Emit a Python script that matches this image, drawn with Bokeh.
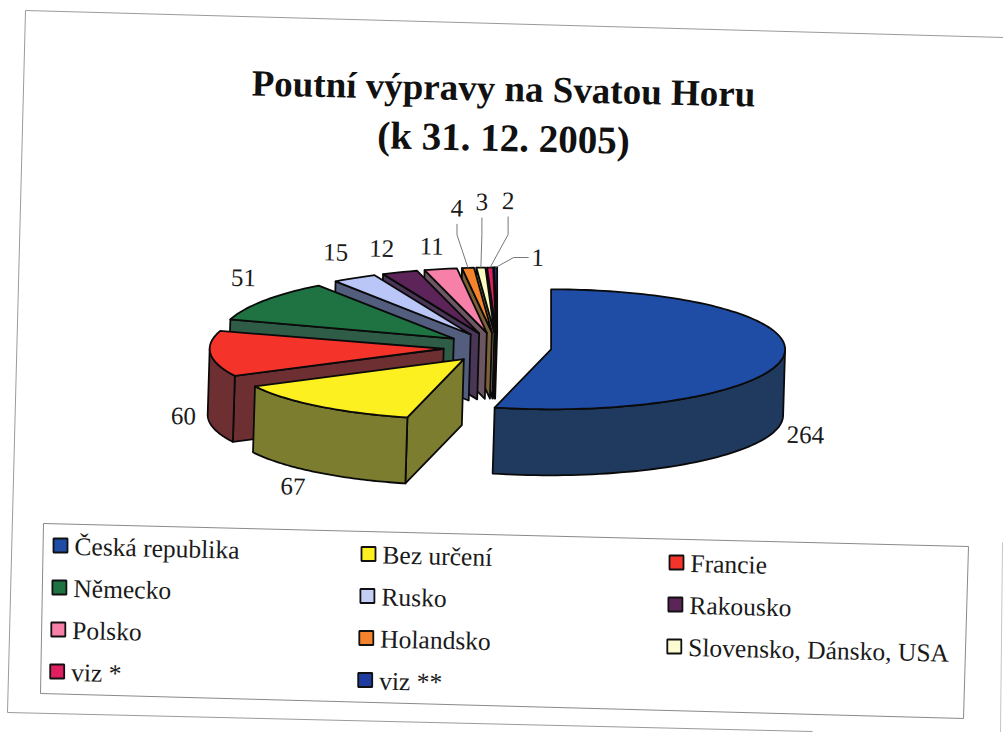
import numpy as np
from bokeh.plotting import figure
from bokeh.models import Range1d
from bokeh.core.properties import value
from bokeh.embed import file_html
from bokeh.resources import INLINE

TITLE = ["Poutní výpravy na Svatou Horu", "(k 31. 12. 2005)"]
categories = ["Česká republika", "Bez určení", "Francie", "Německo", "Rusko", "Rakousko",
              "Polsko", "Holandsko", "Slovensko, Dánsko, USA", "viz *", "viz **"]
values = [264, 67, 60, 51, 15, 12, 11, 4, 3, 2, 1]
top_colors = ["#1f4da6", "#fdf021", "#f4342b", "#1f7342", "#b9c6f7", "#5d2459",
              "#f780a8", "#f5832b", "#fdfbc2", "#e01f60", "#1f3ba0"]
side_colors = ["#1f3a5e", "#7d7d30", "#6e2f33", "#2f5c47", "#535d7e", "#4a3657",
               "#6b5661", "#7c6038", "#7d7c5f", "#6f1f3a", "#1a1a2a"]
legend_swatches = ["#1f4da6", "#fdf021", "#f4342b", "#1f7342", "#c3cff5", "#5d2459",
                   "#f780a8", "#f5832b", "#fdfbd2", "#e01f60", "#1f3ba0"]

# layout
CX, CY = 497.0, 347.0
RX, RY, RY_BACK, DEPTH, SKEW = 234.0, 60.0, 65.0, 66.0, -2.0
EXPLODE_X, EXPLODE_Y = 54.0, 15.0
LABEL_OFFSET = [(22, 78), (-25, 80), (-27, 62), (-21, -23), (-19, -26), (-18, -24), (-9, -23),
                (-11, -60), (1, -66), (18, -67), (42, -10)]
FONT = value("Liberation Serif")
TILT = -0.022

p = figure(width=1003, height=732, x_range=Range1d(0, 1003), y_range=Range1d(732, 0),
           toolbar_location=None, output_backend="svg", min_border=0,
           background_fill_color="white", border_fill_color="white", outline_line_color=None)
p.axis.visible = False
p.grid.visible = False

# paper frame and legend box (skewed like the scan)
FRAME_X, FRAME_Y = [1003, 25, 7, 812], [37, 10, 712, 731]
p.line(FRAME_X, FRAME_Y, line_color="#9a9a9a", line_width=1)
p.line([1002, 1000], [542, 732], line_color="#c4c4c4", line_width=1)
BOX_X, BOX_Y = [43, 968, 963, 40, 43], [523, 546, 718, 693, 523]
p.line(BOX_X, BOX_Y, line_color="#8a8a8a", line_width=1)

# title
for txt, x, y, size in zip(TITLE, (503, 503), (88, 137), ("37px", "39px")):
    p.text([x], [y], text=[txt], text_font=FONT, text_font_style="bold", text_font_size=size,
           text_align="center", text_baseline="middle", text_color="#111111", angle=TILT)

# exploded 3-D pie, clockwise from twelve o'clock
vals = np.array(values, dtype=float)
edges = np.concatenate([[0], np.cumsum(vals)]) / vals.sum() * 2 * np.pi
label_pos = []
rim_mid = []
slices = []
for i in range(len(vals)):
    a0, a1 = edges[i], edges[i + 1]
    mid = (a0 + a1) / 2
    ax = CX + EXPLODE_X * np.sin(mid)
    ay = CY - EXPLODE_Y * np.cos(mid)
    ry_i = RY_BACK if np.cos(mid) > 0 else RY
    slices.append((i, a0, a1, ax, ay, ry_i))
    rx, ry = ax + RX * np.sin(mid), ay - ry_i * np.cos(mid)
    rim_mid.append((rx, ry))
    label_pos.append((rx + LABEL_OFFSET[i][0], ry + LABEL_OFFSET[i][1]))

# back slices first, the large front ones last
order = [i for i in range(len(vals) - 1, 0, -1)] + [0]
for i in order:
    _, a0, a1, ax, ay, ry_i = slices[i]
    th = np.linspace(a0, a1, max(3, int((a1 - a0) * 40)))
    rx = ax + RX * np.sin(th)
    ry = ay - ry_i * np.cos(th)
    kw = dict(line_color="#0a0a0a", line_width=1.8, line_join="round")
    # radial wall on the leading edge, facing the viewer (slices left of six o'clock)
    if a0 > np.pi:
        wx = [ax, rx[0], rx[0] + SKEW, ax + SKEW]
        wy = [ay, ry[0], ry[0] + DEPTH, ay + DEPTH]
        p.patch(wx, wy, fill_color=side_colors[i], **kw)
    # outer wall, only the part on the front half of the ellipse
    lo, hi = max(a0, np.pi / 2), min(a1, 3 * np.pi / 2)
    if hi > lo:
        t2 = np.linspace(lo, hi, 60)
        ox = ax + RX * np.sin(t2)
        oy = ay - ry_i * np.cos(t2)
        p.patch(np.r_[ox, ox[::-1] + SKEW], np.r_[oy, oy[::-1] + DEPTH], fill_color=side_colors[i], **kw)
    p.patch(np.r_[ax, rx], np.r_[ay, ry], fill_color=top_colors[i], **kw)

# leader lines of the four smallest slices
for i in range(7, 11):
    lx, ly = label_pos[i]
    mx, my = rim_mid[i]
    if i == 10:
        xs, ys = [mx, mx + 18, lx - 9], [my, ly, ly]
    else:
        xs, ys = [mx, lx, lx], [my, my - 33, ly + 16]
    p.line(xs, ys, line_color="#777777", line_width=1)

# data labels
p.text([q[0] for q in label_pos], [q[1] for q in label_pos], text=[str(v) for v in values],
       text_font=FONT, text_font_size="25px", text_align="center", text_baseline="middle",
       text_color="#1a1a1a", angle=TILT)

# legend in three columns
LEG_X0, LEG_Y0, COL_W, ROW_H, COL_DY, ROW_DX = 60, 545, 308, 42, 8.5, -1.1
for k, name in enumerate(categories):
    r, c = k // 3, k % 3
    x = LEG_X0 + COL_W * c + ROW_DX * r
    y = LEG_Y0 + ROW_H * r + COL_DY * c
    p.rect([x], [y], width=14, height=14, fill_color=legend_swatches[k], line_color="#111111", line_width=1.8)
    p.text([x + 14], [y + 1], text=[name], text_font=FONT, text_font_size="25.5px",
           text_align="left", text_baseline="middle", text_color="#1a1a1a", angle=TILT)

open("out.html", "w").write(file_html(p, INLINE))
